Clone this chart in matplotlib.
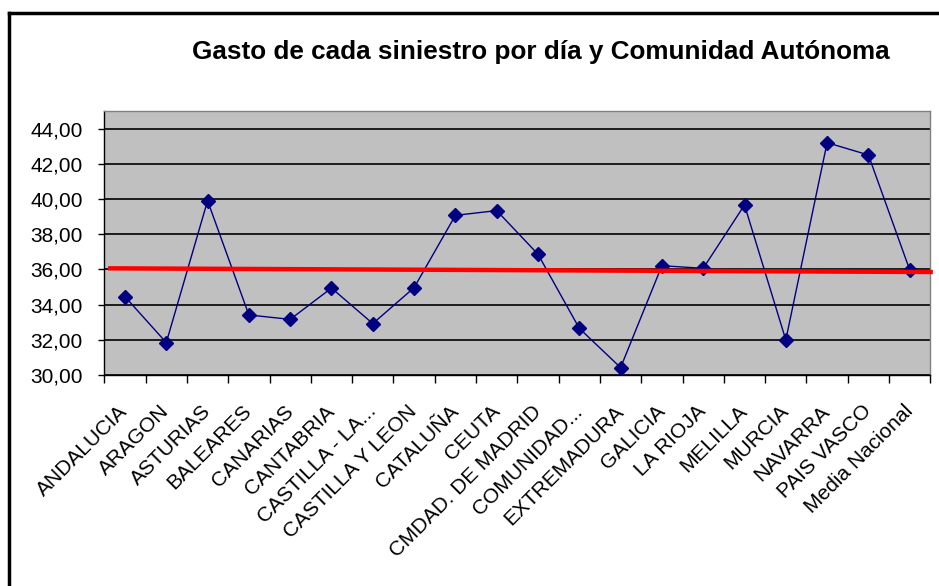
import matplotlib
matplotlib.use("Agg")
import matplotlib.pyplot as plt
from matplotlib.lines import Line2D
from matplotlib.ticker import FuncFormatter

plt.rcParams['font.family'] = ['Liberation Sans', 'DejaVu Sans']

# datos
comunidades = ["ANDALUCIA", "ARAGON", "ASTURIAS", "BALEARES", "CANARIAS",
               "CANTABRIA", "CASTILLA - LA...", "CASTILLA Y LEON", "CATALUÑA",
               "CEUTA", "CMDAD. DE MADRID", "COMUNIDAD...", "EXTREMADURA",
               "GALICIA", "LA RIOJA", "MELILLA", "MURCIA", "NAVARRA",
               "PAIS VASCO", "Media Nacional"]
gasto = [34.45, 31.84, 39.9, 33.41, 33.16, 34.94, 32.92, 34.96, 39.07,
         39.34, 36.86, 32.65, 30.42, 36.21, 36.06, 39.66, 31.99, 43.2,
         42.5, 35.97]
# linea roja (media) dibujada a mano en el original
media_x = [-0.41, 19.56]
media_y = [36.06, 35.85]

fig = plt.figure(figsize=(9.39, 5.86), dpi=100)
ax = fig.add_axes([0.1111, 0.3601, 0.8797, 0.4505])
ax.set_facecolor('#C0C0C0')

x = list(range(len(comunidades)))
ax.plot(x, gasto, color='#000080', linewidth=1, marker='D', markersize=7,
        zorder=3)
ax.plot(media_x, media_y, color='red', linewidth=3.2, zorder=4, clip_on=False,
        solid_capstyle='butt')

ax.set_xlim(-0.5, len(comunidades) - 0.5)
ax.set_ylim(30, 45)
ax.set_yticks(range(30, 45, 2))
ax.yaxis.set_major_formatter(FuncFormatter(lambda v, p: f"{v:.2f}".replace('.', ',')))
ax.grid(axis='y', color='black', linewidth=1.2)
ax.set_axisbelow(True)

ax.set_xticks([i - 0.5 for i in range(len(comunidades) + 1)])
ax.set_xticklabels([])
ax.set_xticks(x, minor=True)
ax.set_xticklabels(comunidades, minor=True, rotation=45, ha='right',
                   va='center', rotation_mode='anchor', fontsize=15)
ax.tick_params(axis='x', which='minor', length=0, pad=24)
ax.tick_params(axis='x', which='major', length=6, width=1, direction='out')
ax.tick_params(axis='y', length=4.5, width=1, pad=11, labelsize=15)

for s in ['top', 'right']:
    ax.spines[s].set_color('#808080')
    ax.spines[s].set_linewidth(1)
for s in ['left', 'bottom']:
    ax.spines[s].set_color('black')
    ax.spines[s].set_linewidth(1)

fig.text(0.5755, 0.912, "Gasto de cada siniestro por día y Comunidad Autónoma",
         ha='center', va='center', fontsize=18.8, fontweight='bold')

# marco del grafico
fig.add_artist(Line2D([0.0101, 1.0], [0.978, 0.978], color='black', linewidth=2.5))
fig.add_artist(Line2D([0.0101, 0.0101], [0.0, 0.978], color='black', linewidth=2.5))

fig.savefig("out.png", dpi=100)
